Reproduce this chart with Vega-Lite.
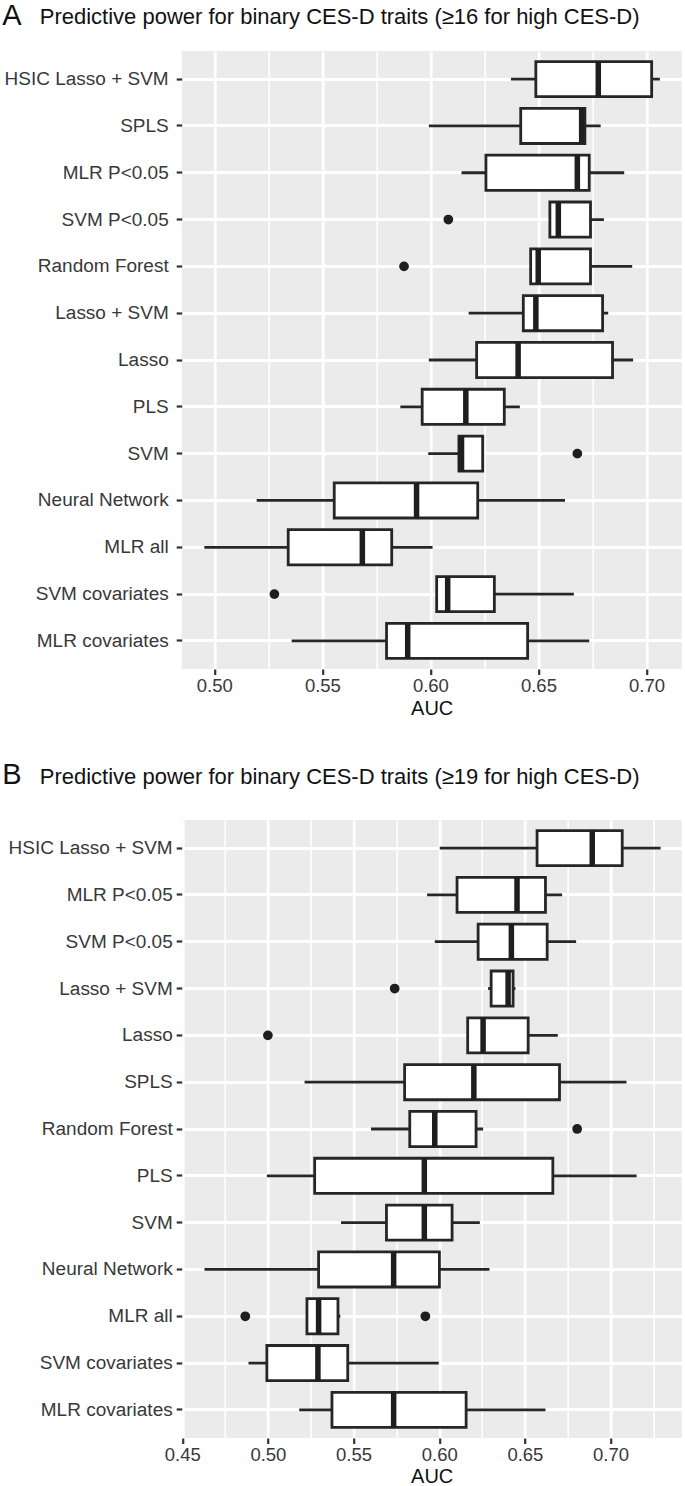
{
  "$schema": "https://vega.github.io/schema/vega-lite/v6.json",
  "padding": {"left": 1.7, "top": 1, "right": 0, "bottom": 0},
  "spacing": 43,
  "config": {
    "font": "Liberation Sans",
    "view": {"fill": "#EBEBEB", "stroke": null},
    "axis": {
      "domain": false,
      "gridColor": "#FFFFFF",
      "gridWidth": 2.8,
      "gridOpacity": 1,
      "tickColor": "#333333",
      "tickWidth": 2.2,
      "tickSize": 5.5,
      "labelFont": "Liberation Sans",
      "labelFontSize": 18.5,
      "labelColor": "#383838",
      "titleFont": "Liberation Sans",
      "titleFontWeight": "normal",
      "titleColor": "#111111"
    },
    "axisX": {"labelPadding": 2, "titlePadding": 3, "titleFontSize": 20, "labelFlush": false, "labelOverlap": false},
    "axisY": {"labelLimit": 0, "labelFontSize": 19}
  },
  "datasets": {
    "boxA": [
      {"method": "HSIC Lasso + SVM", "lower": 0.6373, "q1": 0.6488, "median": 0.6777, "q3": 0.7024, "upper": 0.7062},
      {"method": "SPLS", "lower": 0.5993, "q1": 0.6418, "median": 0.6700, "q3": 0.6715, "upper": 0.6788},
      {"method": "MLR P<0.05", "lower": 0.6144, "q1": 0.6257, "median": 0.6680, "q3": 0.6735, "upper": 0.6897},
      {"method": "SVM P<0.05", "lower": 0.6553, "q1": 0.6553, "median": 0.6592, "q3": 0.6741, "upper": 0.6803},
      {"method": "Random Forest", "lower": 0.6464, "q1": 0.6464, "median": 0.6499, "q3": 0.6741, "upper": 0.6934},
      {"method": "Lasso + SVM", "lower": 0.6177, "q1": 0.6430, "median": 0.6488, "q3": 0.6797, "upper": 0.6823},
      {"method": "Lasso", "lower": 0.5993, "q1": 0.6214, "median": 0.6406, "q3": 0.6843, "upper": 0.6938},
      {"method": "PLS", "lower": 0.5861, "q1": 0.5962, "median": 0.6164, "q3": 0.6342, "upper": 0.6414},
      {"method": "SVM", "lower": 0.5990, "q1": 0.6132, "median": 0.6144, "q3": 0.6242, "upper": 0.6242},
      {"method": "Neural Network", "lower": 0.5196, "q1": 0.5555, "median": 0.5936, "q3": 0.6219, "upper": 0.6623},
      {"method": "MLR all", "lower": 0.4954, "q1": 0.5342, "median": 0.5685, "q3": 0.5821, "upper": 0.6010},
      {"method": "SVM covariates", "lower": 0.6029, "q1": 0.6029, "median": 0.6080, "q3": 0.6296, "upper": 0.6664},
      {"method": "MLR covariates", "lower": 0.5358, "q1": 0.5797, "median": 0.5895, "q3": 0.6450, "upper": 0.6735}
    ],
    "outA": [
      {"method": "SVM P<0.05", "auc": 0.6083},
      {"method": "Random Forest", "auc": 0.5878},
      {"method": "SVM", "auc": 0.6680},
      {"method": "SVM covariates", "auc": 0.5278}
    ],
    "boxB": [
      {"method": "HSIC Lasso + SVM", "lower": 0.6003, "q1": 0.6571, "median": 0.6893, "q3": 0.7068, "upper": 0.7292},
      {"method": "MLR P<0.05", "lower": 0.5929, "q1": 0.6104, "median": 0.6454, "q3": 0.6620, "upper": 0.6717},
      {"method": "SVM P<0.05", "lower": 0.5974, "q1": 0.6227, "median": 0.6421, "q3": 0.6630, "upper": 0.6799},
      {"method": "Lasso + SVM", "lower": 0.6285, "q1": 0.6303, "median": 0.6402, "q3": 0.6431, "upper": 0.6445},
      {"method": "Lasso", "lower": 0.6166, "q1": 0.6166, "median": 0.6256, "q3": 0.6519, "upper": 0.6692},
      {"method": "SPLS", "lower": 0.5214, "q1": 0.5798, "median": 0.6202, "q3": 0.6702, "upper": 0.7093},
      {"method": "Random Forest", "lower": 0.5602, "q1": 0.5828, "median": 0.5974, "q3": 0.6215, "upper": 0.6256},
      {"method": "PLS", "lower": 0.4994, "q1": 0.5273, "median": 0.5913, "q3": 0.6663, "upper": 0.7152},
      {"method": "SVM", "lower": 0.5427, "q1": 0.5692, "median": 0.5913, "q3": 0.6075, "upper": 0.6237},
      {"method": "Neural Network", "lower": 0.4630, "q1": 0.5296, "median": 0.5734, "q3": 0.6001, "upper": 0.6293},
      {"method": "MLR all", "lower": 0.5228, "q1": 0.5228, "median": 0.5296, "q3": 0.5409, "upper": 0.5423},
      {"method": "SVM covariates", "lower": 0.4887, "q1": 0.4994, "median": 0.5292, "q3": 0.5466, "upper": 0.5997},
      {"method": "MLR covariates", "lower": 0.5183, "q1": 0.5374, "median": 0.5734, "q3": 0.6157, "upper": 0.6620}
    ],
    "outB": [
      {"method": "Lasso + SVM", "auc": 0.5740},
      {"method": "Lasso", "auc": 0.5000},
      {"method": "Random Forest", "auc": 0.6805},
      {"method": "MLR all", "auc": 0.4868},
      {"method": "MLR all", "auc": 0.5919}
    ]
  },
  "vconcat": [
    {
      "width": 500,
      "height": 618,
      "encoding": {
        "y": {
          "field": "method",
          "type": "nominal",
          "scale": {
            "domain": ["HSIC Lasso + SVM", "SPLS", "MLR P<0.05", "SVM P<0.05", "Random Forest", "Lasso + SVM", "Lasso", "PLS", "SVM", "Neural Network", "MLR all", "SVM covariates", "MLR covariates"],
            "paddingInner": 0,
            "paddingOuter": 0.1
          },
          "axis": {
            "grid": true,
            "bandPosition": 0.5,
            "labelPadding": 8,
            "title": "A",
            "titleAngle": 0,
            "titleAlign": "left",
            "titleBaseline": "alphabetic",
            "titleFontSize": 29,
            "titleX": -180,
            "titleY": -26.6
          }
        }
      },
      "layer": [
        {
          "data": {"name": "boxA"},
          "mark": {"type": "rule", "color": "#262626", "strokeWidth": 2.8},
          "encoding": {
            "x": {
              "field": "lower",
              "type": "quantitative",
              "scale": {"domain": [0.4849, 0.7163], "nice": false, "zero": false},
              "axis": {"grid": true, "values": [0.5, 0.55, 0.6, 0.65, 0.7], "format": ".2f", "title": "AUC"}
            },
            "x2": {"field": "upper"}
          }
        },
        {
          "data": {"name": "boxA"},
          "mark": {"type": "bar", "fill": "#FFFFFF", "stroke": "#262626", "strokeWidth": 2.8, "opacity": 1, "height": {"band": 0.75}},
          "encoding": {
            "x": {
              "field": "q1",
              "type": "quantitative",
              "axis": {
                "orient": "top",
                "grid": true,
                "values": [0.525, 0.575, 0.625, 0.675],
                "labels": false,
                "ticks": false,
                "gridWidth": 1.6,
                "title": "Predictive power for binary CES-D traits (≥16 for high CES-D)",
                "titleFontSize": 22,
                "titleAlign": "left",
                "titleBaseline": "alphabetic",
                "titleX": -142.4,
                "titleY": -27.6
              }
            },
            "x2": {"field": "q3"}
          }
        },
        {
          "data": {"name": "boxA"},
          "mark": {"type": "tick", "color": "#1E1E1E", "thickness": 5.5, "size": 35, "opacity": 1},
          "encoding": {"x": {"field": "median", "type": "quantitative", "axis": null}}
        },
        {
          "data": {"name": "outA"},
          "mark": {"type": "circle", "color": "#1E1E1E", "size": 95, "opacity": 1},
          "encoding": {"x": {"field": "auc", "type": "quantitative", "axis": null}}
        }
      ],
      "resolve": {"axis": {"x": "independent"}}
    },
    {
      "width": 500,
      "height": 618,
      "encoding": {
        "y": {
          "field": "method",
          "type": "nominal",
          "scale": {
            "domain": ["HSIC Lasso + SVM", "MLR P<0.05", "SVM P<0.05", "Lasso + SVM", "Lasso", "SPLS", "Random Forest", "PLS", "SVM", "Neural Network", "MLR all", "SVM covariates", "MLR covariates"],
            "paddingInner": 0,
            "paddingOuter": 0.1
          },
          "axis": {
            "grid": true,
            "bandPosition": 0.5,
            "labelPadding": 4,
            "title": "B",
            "titleAngle": 0,
            "titleAlign": "left",
            "titleBaseline": "alphabetic",
            "titleFontSize": 29,
            "titleX": -180,
            "titleY": -36
          }
        }
      },
      "layer": [
        {
          "data": {"name": "boxB"},
          "mark": {"type": "rule", "color": "#262626", "strokeWidth": 2.8},
          "encoding": {
            "x": {
              "field": "lower",
              "type": "quantitative",
              "scale": {"domain": [0.4497, 0.7415], "nice": false, "zero": false},
              "axis": {"grid": true, "values": [0.45, 0.5, 0.55, 0.6, 0.65, 0.7], "format": ".2f", "title": "AUC"}
            },
            "x2": {"field": "upper"}
          }
        },
        {
          "data": {"name": "boxB"},
          "mark": {"type": "bar", "fill": "#FFFFFF", "stroke": "#262626", "strokeWidth": 2.8, "opacity": 1, "height": {"band": 0.75}},
          "encoding": {
            "x": {
              "field": "q1",
              "type": "quantitative",
              "axis": {
                "orient": "top",
                "grid": true,
                "values": [0.475, 0.525, 0.575, 0.625, 0.675, 0.725],
                "labels": false,
                "ticks": false,
                "gridWidth": 1.6,
                "title": "Predictive power for binary CES-D traits (≥19 for high CES-D)",
                "titleFontSize": 22,
                "titleAlign": "left",
                "titleBaseline": "alphabetic",
                "titleX": -142.4,
                "titleY": -36
              }
            },
            "x2": {"field": "q3"}
          }
        },
        {
          "data": {"name": "boxB"},
          "mark": {"type": "tick", "color": "#1E1E1E", "thickness": 5.5, "size": 35, "opacity": 1},
          "encoding": {"x": {"field": "median", "type": "quantitative", "axis": null}}
        },
        {
          "data": {"name": "outB"},
          "mark": {"type": "circle", "color": "#1E1E1E", "size": 95, "opacity": 1},
          "encoding": {"x": {"field": "auc", "type": "quantitative", "axis": null}}
        }
      ],
      "resolve": {"axis": {"x": "independent"}}
    }
  ]
}
